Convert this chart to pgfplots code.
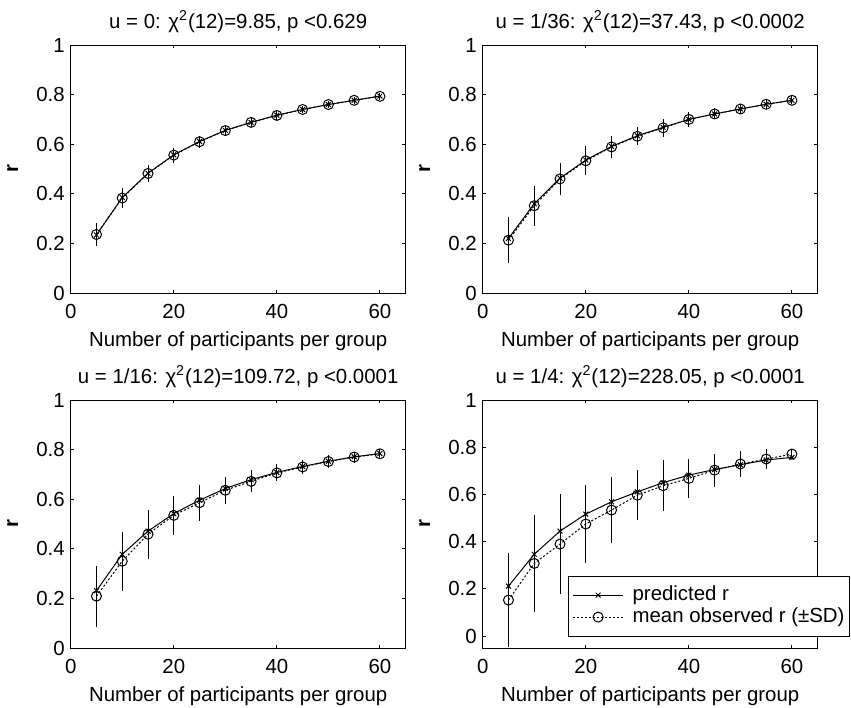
\documentclass[border=0pt]{standalone}
\usepackage{fontspec}
\setmainfont{Liberation Sans}
\usepackage{pgfplots}
\usepackage{pgfplotstable}
\pgfplotsset{compat=1.18}

\pgfplotstableread{
x p o s
5  0.234 0.236 0.047
10 0.385 0.383 0.040
15 0.483 0.482 0.034
20 0.557 0.556 0.030
25 0.611 0.610 0.025
30 0.656 0.655 0.022
35 0.688 0.688 0.020
40 0.717 0.716 0.018
45 0.740 0.740 0.016
50 0.760 0.760 0.015
55 0.777 0.777 0.014
60 0.794 0.793 0.013
}\tA
\pgfplotstableread{
x p o s
5  0.220 0.213 0.092
10 0.360 0.352 0.081
15 0.463 0.460 0.065
20 0.536 0.533 0.058
25 0.591 0.589 0.046
30 0.634 0.632 0.037
35 0.668 0.666 0.035
40 0.700 0.700 0.030
45 0.722 0.722 0.022
50 0.742 0.742 0.020
55 0.761 0.761 0.018
60 0.777 0.777 0.016
}\tB
\pgfplotstableread{
x p o s
5  0.231 0.209 0.123
10 0.378 0.350 0.119
15 0.471 0.459 0.099
20 0.542 0.535 0.079
25 0.596 0.586 0.072
30 0.643 0.636 0.055
35 0.679 0.672 0.044
40 0.708 0.706 0.034
45 0.732 0.730 0.030
50 0.753 0.752 0.025
55 0.771 0.770 0.022
60 0.784 0.783 0.020
}\tC
\pgfplotstableread{
x p o s
5  0.212 0.153 0.200
10 0.347 0.308 0.205
15 0.445 0.390 0.210
20 0.517 0.475 0.165
25 0.569 0.534 0.139
30 0.611 0.597 0.106
35 0.650 0.637 0.107
40 0.682 0.668 0.083
45 0.706 0.703 0.070
50 0.726 0.729 0.053
55 0.746 0.750 0.042
60 0.757 0.771 0.020
}\tD

\pgfplotsset{
  rplot/.style={
    scale only axis, width=167.5pt, height=124pt,
    xmin=0, xmax=65, ymin=0, ymax=1,
    xtick={0,20,40,60}, ytick={0,0.2,0.4,0.6,0.8,1},
    tick align=inside, major tick length=1.7pt,
    axis line style={line width=0.5pt},
    every tick/.style={black, line width=0.5pt},
    /pgf/number format/assume math mode=true,
    yticklabel style={/pgf/number format/fixed, inner sep=0pt, xshift=-2.8pt},
    xticklabel style={anchor=base, inner sep=0pt, yshift=-12.5pt},
    font=\fontsize{10.2}{12}\selectfont,
    xlabel={Number of participants per group},
    xlabel style={at={(axis description cs:0.5,0)}, anchor=base, yshift=-26.7pt},
    ylabel={\textbf{r}},
    ylabel style={at={(axis description cs:-0.173,0.5)}, anchor=center},
    every axis title shift=0pt,
    title style={at={(axis description cs:0.5,1)}, anchor=base, yshift=8.5pt},
    legend image code/.code={\draw[mark repeat=2,mark phase=2,##1] plot coordinates {(0pt,0pt) (12.5pt,0pt) (25pt,0pt)};},
  },
  pred/.style={black, line width=0.5pt, solid, mark=x, mark size=1.7pt, mark options={solid}},
  obs/.style={black, line width=0.5pt, dash pattern=on 1pt off 1pt, mark=o, mark size=2.5pt, mark options={solid},
     /pgfplots/error bars/y dir=both, /pgfplots/error bars/y explicit, /pgfplots/error bars/error mark=none,
     /pgfplots/error bars/error bar style={solid, line width=0.5pt}},
}

\begin{document}
\begin{tikzpicture}
\useasboundingbox (0,0) rectangle (425.5pt,-353.5pt);

\begin{axis}[rplot, at={(35.35pt,-22.5pt)}, anchor=north west,
  title={u = 0: χ\textsuperscript{2}(12)=9.85, p <0.629}]
\addplot[pred] table[x=x,y=p] {\tA};
\addplot[obs] table[x=x,y=o,y error=s] {\tA};
\end{axis}

\begin{axis}[rplot, at={(241.35pt,-22.5pt)}, anchor=north west,
  title={u = 1/36: χ\textsuperscript{2}(12)=37.43, p <0.0002}]
\addplot[pred] table[x=x,y=p] {\tB};
\addplot[obs] table[x=x,y=o,y error=s] {\tB};
\end{axis}

\begin{axis}[rplot, at={(35.35pt,-200pt)}, anchor=north west,
  title={u = 1/16: χ\textsuperscript{2}(12)=109.72, p <0.0001}]
\addplot[pred] table[x=x,y=p] {\tC};
\addplot[obs] table[x=x,y=o,y error=s] {\tC};
\end{axis}

\begin{axis}[rplot, at={(241.35pt,-200pt)}, anchor=north west, ymin=-0.05,
  title={u = 1/4: χ\textsuperscript{2}(12)=228.05, p <0.0001},
  legend style={at={(0.255,0.046)}, anchor=south west, draw=black, line width=0.5pt, fill=white,
    inner xsep=2pt, inner ysep=4pt, row sep=0pt,
    cells={anchor=west},
    nodes={inner sep=0.5pt, text height=7.5pt, text depth=2.5pt},
    /tikz/every odd column/.append style={column sep=4pt}}]
\addplot[pred] table[x=x,y=p] {\tD};
\addplot[obs] table[x=x,y=o,y error=s] {\tD};
\legend{predicted r, mean observed r (±SD)}
\end{axis}
\end{tikzpicture}
\end{document}
